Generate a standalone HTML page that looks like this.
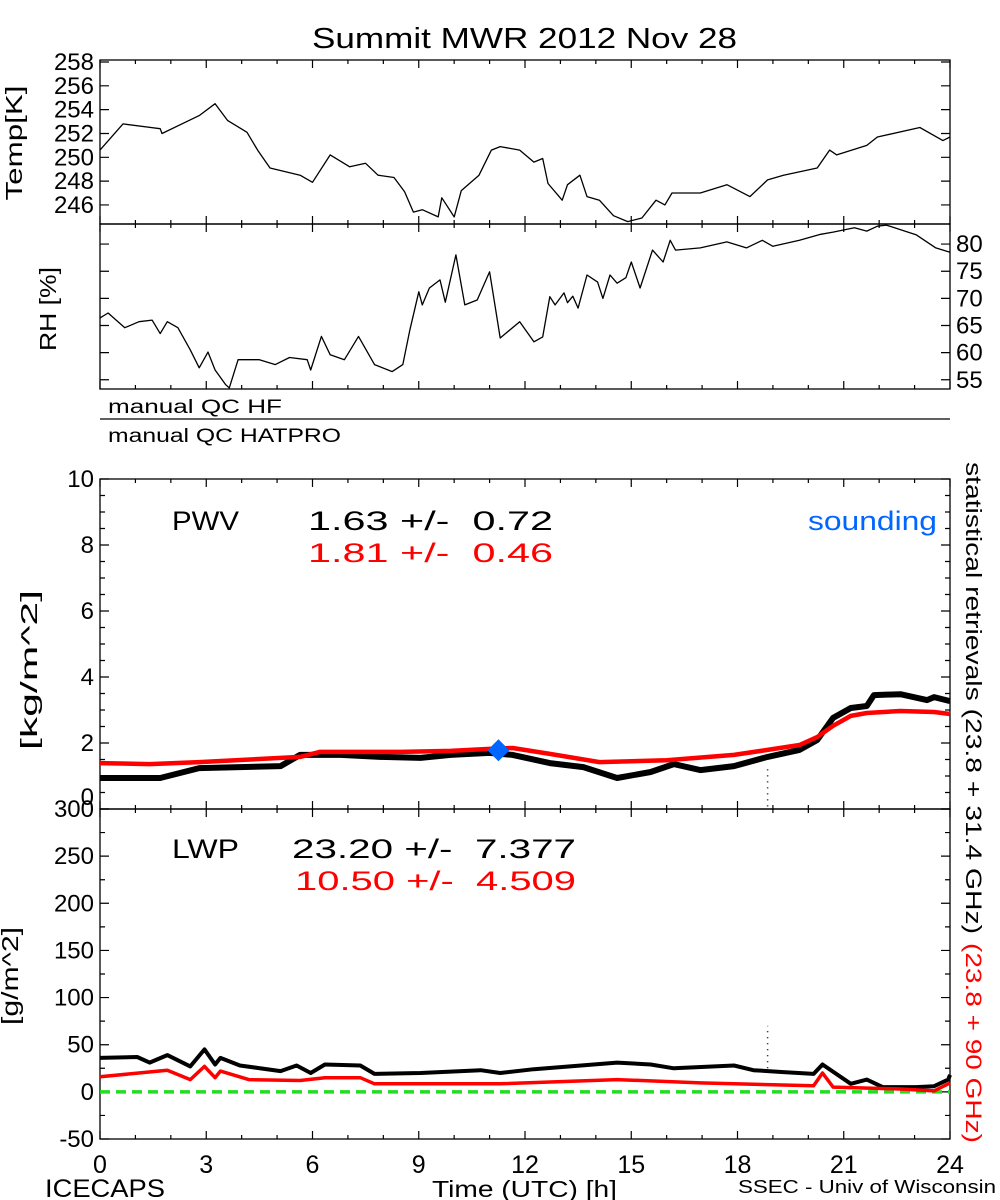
<!DOCTYPE html>
<html><head><meta charset="utf-8"><style>
body{margin:0;background:#fff}
svg{display:block;font-family:"Liberation Sans",sans-serif}
</style></head><body>
<svg id="c" width="1000" height="1200" viewBox="0 0 1000 1200" xmlns="http://www.w3.org/2000/svg">
<rect width="1000" height="1200" fill="#fff"/>
<text x="312" y="48" font-size="29" textLength="425" lengthAdjust="spacingAndGlyphs">Summit MWR 2012 Nov 28</text>
<g id="axes"></g>
<g id="marks"></g>
<g font-size="23">
<text x="16" y="143" transform="rotate(-90 16 143)" text-anchor="middle" dominant-baseline="middle" textLength="115" lengthAdjust="spacingAndGlyphs">Temp[K]</text>
<text x="50" y="309" transform="rotate(-90 50 309)" text-anchor="middle" dominant-baseline="middle" textLength="84" lengthAdjust="spacingAndGlyphs">RH [%]</text>
<text x="31" y="670" transform="rotate(-90 31 670)" text-anchor="middle" dominant-baseline="middle" textLength="160" lengthAdjust="spacingAndGlyphs">[kg/m^2]</text>
<text x="12" y="976" transform="rotate(-90 12 976)" text-anchor="middle" dominant-baseline="middle" textLength="98" lengthAdjust="spacingAndGlyphs">[g/m^2]</text>
</g>
<text x="108" y="413" font-size="19" textLength="174" lengthAdjust="spacingAndGlyphs">manual QC HF</text>
<line x1="100" y1="419" x2="950" y2="419" stroke="#000" stroke-width="1.2"/>
<text x="108" y="442" font-size="19" textLength="233" lengthAdjust="spacingAndGlyphs">manual QC HATPRO</text>
<g font-size="27">
<text x="172" y="530" textLength="67" lengthAdjust="spacingAndGlyphs">PWV</text>
<text x="308" y="530" textLength="245" lengthAdjust="spacingAndGlyphs" xml:space="preserve">1.63 +/-  0.72</text>
<text x="308" y="562" fill="#ff0000" textLength="245" lengthAdjust="spacingAndGlyphs" xml:space="preserve">1.81 +/-  0.46</text>
<text x="808" y="530" fill="#0066ff" textLength="129" lengthAdjust="spacingAndGlyphs">sounding</text>
<text x="172" y="858" textLength="67" lengthAdjust="spacingAndGlyphs">LWP</text>
<text x="292" y="858" textLength="284" lengthAdjust="spacingAndGlyphs" xml:space="preserve">23.20 +/-  7.377</text>
<text x="295" y="890" fill="#ff0000" textLength="281" lengthAdjust="spacingAndGlyphs" xml:space="preserve">10.50 +/-  4.509</text>
</g>
<text x="966" y="462" transform="rotate(90 966 462)" font-size="22" textLength="472" lengthAdjust="spacingAndGlyphs">statistical retrievals (23.8 + 31.4 GHz)</text>
<text x="966" y="943" transform="rotate(90 966 943)" font-size="22" fill="#ff0000" textLength="200" lengthAdjust="spacingAndGlyphs">(23.8 + 90 GHz)</text>
<text x="45" y="1197" font-size="25" textLength="120" lengthAdjust="spacingAndGlyphs">ICECAPS</text>
<text x="432" y="1197" font-size="23" textLength="185" lengthAdjust="spacingAndGlyphs">Time (UTC) [h]</text>
<text x="738" y="1193" font-size="18" textLength="258" lengthAdjust="spacingAndGlyphs">SSEC - Univ of Wisconsin</text>
</svg>
<script>
const tempHours=[0,0.65,1.7,1.75,2.8,3.25,3.6,4.15,4.45,4.8,5.65,6,6.5,7.05,7.5,7.85,8.3,8.6,8.85,9.1,9.55,9.65,10,10.2,10.7,11.05,11.3,11.85,12.25,12.5,12.65,13.05,13.2,13.55,13.75,14.1,14.5,14.9,15.3,15.7,15.95,16.15,16.95,17.7,18.35,18.85,19.3,20.25,20.6,20.8,21.65,21.95,23.15,23.8,24];
const tempValues=[250.6,252.8,252.4,252.0,253.5,254.5,253.1,252.1,250.6,249.1,248.5,247.9,250.2,249.2,249.5,248.5,248.3,247.1,245.4,245.6,245.0,246.6,245.0,247.2,248.5,250.6,250.9,250.6,249.6,249.9,247.8,246.4,247.7,248.5,246.7,246.4,245.1,244.6,244.9,246.4,246.0,247.0,247.0,247.7,246.7,248.1,248.5,249.1,250.6,250.2,251.0,251.7,252.5,251.4,251.7];
const rhHours=[0,0.23,0.7,1.1,1.47,1.7,1.9,2.2,2.55,2.8,3.05,3.25,3.55,3.65,3.9,4.5,4.95,5.35,5.85,5.95,6.25,6.5,6.9,7.3,7.75,8.25,8.55,8.75,9,9.1,9.3,9.6,9.75,10.05,10.3,10.65,11,11.3,11.85,12.25,12.5,12.7,12.85,13.1,13.2,13.35,13.5,13.75,14.05,14.2,14.4,14.6,14.85,15.0,15.25,15.6,15.9,16.1,16.25,16.95,17.7,18.25,18.7,19,19.75,20.35,20.7,21.3,21.65,21.95,22.2,23.05,23.6,24];
const rhValues=[66.4,67.3,64.6,65.7,66.0,63.5,65.7,64.6,60.5,57.2,60.1,56.8,54.1,53.5,58.7,58.7,57.8,59.1,58.7,56.8,63.0,59.6,58.7,63.0,57.8,56.5,57.8,64.2,71.2,68.8,71.9,73.4,69.3,78.0,68.8,69.7,74.9,62.7,65.7,62.0,62.9,70.3,68.8,71.0,69.2,70.4,68.2,74.3,73.0,70.0,74.3,72.8,73.8,76.7,71.9,78.9,76.7,80.7,78.9,79.3,80.4,79.3,80.7,79.6,80.7,81.8,82.2,83.0,82.4,83.3,83.5,81.7,79.3,78.5];
const pwvBlackHours=[0,1.7,2.8,3.95,5.1,5.65,6.8,7.9,9.05,9.9,11,11.65,12.7,13.65,14.6,15.55,16.2,16.95,17.9,18.85,19.75,20.25,20.7,21.2,21.65,21.85,22.6,23.35,23.55,24];
const pwvBlack=[0.94,0.94,1.24,1.27,1.3,1.64,1.64,1.58,1.55,1.64,1.7,1.64,1.39,1.27,0.94,1.12,1.36,1.18,1.30,1.58,1.79,2.09,2.76,3.06,3.12,3.45,3.48,3.3,3.39,3.27];
const pwvRedHours=[0,1.4,2.8,5.65,6.2,8.5,9.9,11,11.65,12.7,14.1,16,17.9,18.85,19.75,20.25,20.7,21.2,21.65,22.6,23.55,24];
const pwvRed=[1.39,1.36,1.42,1.58,1.73,1.73,1.76,1.82,1.85,1.67,1.42,1.48,1.64,1.79,1.94,2.18,2.52,2.82,2.91,2.97,2.94,2.88];
const soundingHour=[11.25];
const soundingPwv=[1.78];
const lwpBlackHours=[0,1.05,1.4,1.9,2.55,2.95,3.25,3.4,3.95,5.1,5.55,5.95,6.35,7.35,7.75,9.05,10.75,11.3,12.25,14.6,15.55,16.2,17.9,18.45,19.3,20.15,20.4,21.2,21.65,22.1,23.05,23.55,23.95,24];
const lwpBlack=[36,37,31,39,27,45,29,36,28,22,28,20,29,28,19,20,23,20,24,31,29,25,28,23,21,19,29,8.5,13,5,5,6,13,18];
const lwpRedHours=[0,1.9,2.55,2.95,3.25,3.4,4.2,5.65,6.35,7.35,7.75,9.05,11.3,14.6,16.95,20.15,20.4,20.7,22.6,23.55,24];
const lwpRed=[16,23,13,27,15,22,13,12,15,15,8.5,8.5,8.5,13,9.5,6.4,20,5,3,1,9.5];
const spikeHour=[18.85];
const xTickLabels=["0","3","6","9","12","15","18","21","24"];
const tempTicks=[246,248,250,252,254,256,258];
const rhTicks=[55,60,65,70,75,80];
const pwvTicks=[0,2,4,6,8,10];
const lwpTicks=[-50,0,50,100,150,200,250,300];

const NS="http://www.w3.org/2000/svg";
const X0=100,X1=950;
const xs=h=>X0+(X1-X0)*h/24;
function lin(d0,d1,r0,r1){return v=>r0+(v-d0)*(r1-r0)/(d1-d0);}
const yT=lin(244.4,258,224,62), yR=lin(53.3,83.7,389,224), yP=lin(0,10,809,479), yL=lin(-50,300,1139,809);
const axes=document.getElementById('axes'), marks=document.getElementById('marks');
function mk(tag,attrs,parent){const e=document.createElementNS(NS,tag);for(const k in attrs)e.setAttribute(k,attrs[k]);parent.appendChild(e);return e;}
function panel(name,top,bot,ys,ticks,minorStep,dmin,dmax,labelSide,lift){
  const g=mk('g',{},axes);
  
  
  const r=mk('rect',{x:X0,y:top,width:X1-X0,height:bot-top,fill:'none',stroke:'#000','stroke-width':1.3},g);
  
  
  let d='';
  for(let h=0;h<=24;h++){const x=xs(h);const L=h%3===0?8:4;d+=`M${x} ${bot}v${-L}M${x} ${top}v${L}`;}
  const start=Math.ceil(dmin/minorStep)*minorStep;
  for(let v=start;v<=dmax+1e-9;v+=minorStep){const y=ys(v);const L=ticks.some(t=>Math.abs(t-v)<1e-9)?9:5;d+=`M${X0} ${y}h${L}M${X1} ${y}h${-L}`;}
  const p=mk('path',{d:d,stroke:'#000','stroke-width':1.2,fill:'none'},g);
  
  
  ticks.forEach(t=>{
    let y=ys(t)+8;
    if(lift && t===ticks[0]) y-=12;
    const tx=mk('text',{x:labelSide==='left'?X0-6:X1+6,y:y,'font-size':24,'text-anchor':labelSide==='left'?'end':'start'},g);
    tx.textContent=t;
    
    
  });
}
panel('temp',60,224,yT,tempTicks,2,244.4,258,'left');
panel('rh',224,389,yR,rhTicks,5,53.3,83.7,'right');
panel('pwv',479,809,yP,pwvTicks,0.5,0,10,'left',true);
panel('lwp',809,1139,yL,lwpTicks,25,-50,300,'left');
xTickLabels.forEach((t,i)=>{
  const tx=mk('text',{x:xs(+t),y:1173,'font-size':25,'text-anchor':'middle'},axes);
  tx.textContent=t;
  
  
});
function line(hs,vs,ys,color,w,name){
  const d=hs.map((h,i)=>(i?'L':'M')+xs(h).toFixed(1)+' '+ys(vs[i]).toFixed(1)).join('');
  const p=mk('path',{d:d,stroke:color,'stroke-width':w,fill:'none','stroke-linejoin':'round'},marks);
  
  
}
const z=mk('line',{x1:X0,x2:X1,y1:yL(0),y2:yL(0),stroke:'#22dd22','stroke-width':3.5,'stroke-dasharray':'10 6'},marks);


line(tempHours,tempValues,yT,'#000',1.3,'temp-line');
line(rhHours,rhValues,yR,'#000',1.3,'rh-line');
line(pwvBlackHours,pwvBlack,yP,'#000',6,'pwv-black-line');
line(pwvRedHours,pwvRed,yP,'#ff0000',4.5,'pwv-red-line');
line(lwpBlackHours,lwpBlack,yL,'#000',4,'lwp-black-line');
line(lwpRedHours,lwpRed,yL,'#ff0000',3.5,'lwp-red-line');
const s1=mk('line',{x1:xs(spikeHour[0]),x2:xs(spikeHour[0]),y1:yP(1.2),y2:yP(0),stroke:'#000','stroke-width':1.5,'stroke-dasharray':'1 5'},marks);


const s2=mk('line',{x1:xs(spikeHour[0]),x2:xs(spikeHour[0]),y1:yL(25),y2:yL(70),stroke:'#000','stroke-width':1.5,'stroke-dasharray':'1 5'},marks);


soundingHour.forEach((h,i)=>{
  const x=xs(h),y=yP(soundingPwv[i]);
  const dm=mk('polygon',{points:`${x} ${y-11} ${x+11} ${y} ${x} ${y+11} ${x-11} ${y}`,fill:'#0066ff'},marks);
  
  
});
</script>
</body></html>
